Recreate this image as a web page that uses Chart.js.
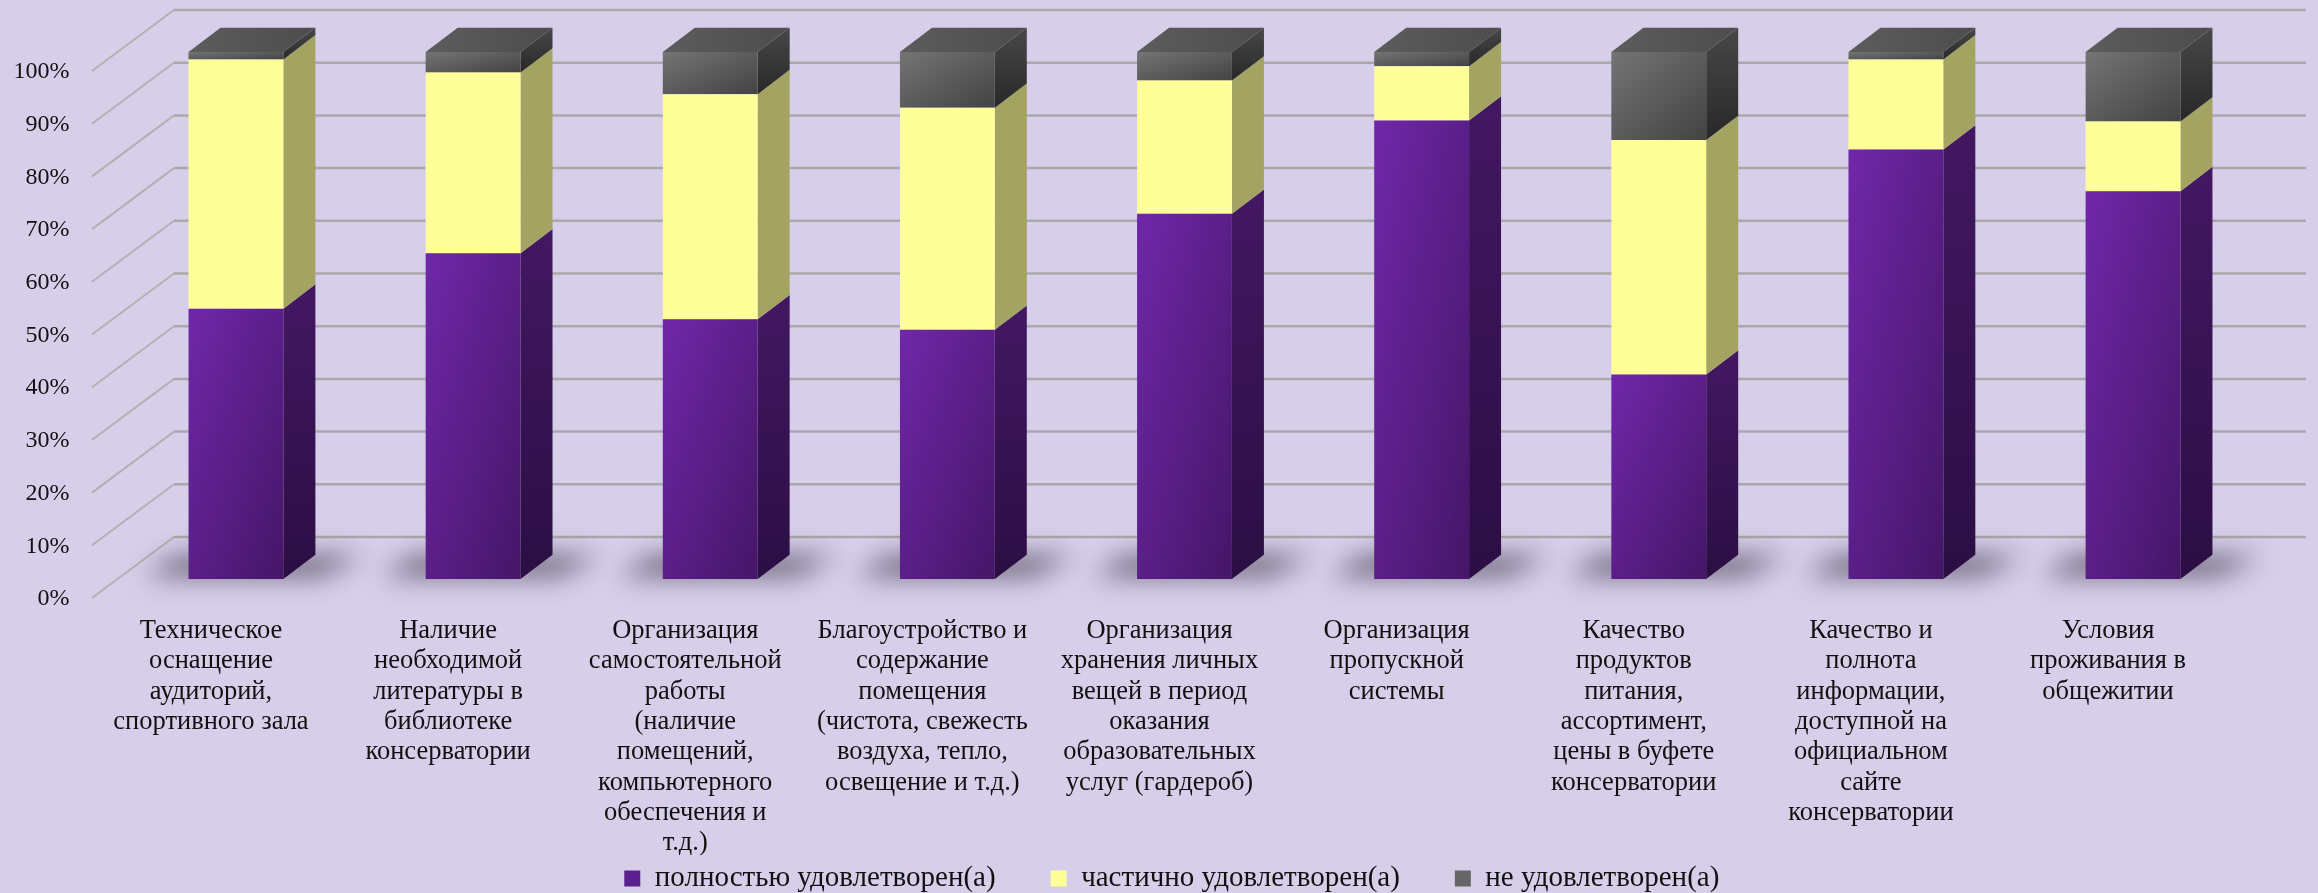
<!DOCTYPE html>
<html lang="ru">
<head>
<meta charset="utf-8">
<title>Удовлетворённость условиями</title>
<script src="https://cdn.jsdelivr.net/npm/chart.js@4"></script>
<style>
  html, body { margin: 0; padding: 0; background: #d7cee9; }
  canvas { display: block; }
</style>
</head>
<body>
<canvas id="myChart" width="2318" height="893"></canvas>
<script>
const categories = [
    ['Техническое', 'оснащение', 'аудиторий,', 'спортивного зала'],
    ['Наличие', 'необходимой', 'литературы в', 'библиотеке', 'консерватории'],
    ['Организация', 'самостоятельной', 'работы', '(наличие', 'помещений,', 'компьютерного', 'обеспечения и', 'т.д.)'],
    ['Благоустройство и', 'содержание', 'помещения', '(чистота, свежесть', 'воздуха, тепло,', 'освещение и т.д.)'],
    ['Организация', 'хранения личных', 'вещей в период', 'оказания', 'образовательных', 'услуг (гардероб)'],
    ['Организация', 'пропускной', 'системы'],
    ['Качество', 'продуктов', 'питания,', 'ассортимент,', 'цены в буфете', 'консерватории'],
    ['Качество и', 'полнота', 'информации,', 'доступной на', 'официальном', 'сайте', 'консерватории'],
    ['Условия', 'проживания в', 'общежитии']
]
const seriesNames = ['полностью удовлетворен(а)', 'частично удовлетворен(а)', 'не удовлетворен(а)']
const fullySatisfied = [51.3, 61.8, 49.3, 47.3, 69.3, 87.0, 38.8, 81.5, 73.6]
const partlySatisfied = [47.3, 34.3, 42.7, 42.1, 25.3, 10.3, 44.5, 17.1, 13.2]
const notSatisfied = [1.4, 3.9, 8.0, 10.6, 5.4, 2.7, 16.7, 1.4, 13.2]

// 3D look: depth of the bars and of the back wall
const depthX = 32
const depthY = 24.3
const wallDx = 82
const wallDy = 61
const tickShift = 19   // tick labels sit this far below the bar front

const fronts = [['#7027a9', '#451668'], ['#ffff99', '#ffff99'], ['#747474', '#434343']]
const sides = [['#431862', '#2b0e44'], ['#a3a362', '#a3a362'], ['#484848', '#282828']]
const legendColors = ['#5c1f8e', '#ffff99', '#666666']

// gradient corner to corner, like css "to bottom right"
function cornerGradient(ctx, x, y, w, h, c1, c2) {
    let len = Math.sqrt(w * w + h * h) || 1
    let half = w * h / len
    let cx = x + w / 2, cy = y + h / 2
    let dx = h / len * half, dy = w / len * half
    let g = ctx.createLinearGradient(cx - dx, cy - dy, cx + dx, cy + dy)
    g.addColorStop(0, c1)
    g.addColorStop(1, c2)
    return g
}

function frontFill(ds) {
    return (c) => {
        if (c.type !== 'data') return fronts[ds][1]
        let chart = c.chart
        let sx = chart.scales.x, sy = chart.scales.y
        let sets = chart.data.datasets
        let from = 0
        for (let k = 0; k < ds; k++) from += sets[k].data[c.dataIndex]
        let to = from + sets[ds].data[c.dataIndex]
        let top = sy.getPixelForValue(to), base = sy.getPixelForValue(from)
        let w = sx.getPixelForValue(c.dataIndex + 1) - sx.getPixelForValue(c.dataIndex)
        let bw = w * 0.4
        let left = sx.getPixelForValue(c.dataIndex) - bw / 2
        return cornerGradient(chart.ctx, left, top, bw, base - top, fronts[ds][0], fronts[ds][1])
    }
}

const threeD = {
    id: 'threeD',
    afterLayout(chart) {
        // legend sits lower and more to the right than the layout would put it
        let lg = chart.legend
        lg.top = 878 - lg.options.labels.padding - 14
        lg.left += 46
        lg.right += 46
    },
    beforeDatasetsDraw(chart) {
        let ctx = chart.ctx
        let sy = chart.scales.y
        let area = chart.chartArea

        ctx.save()
        // back wall and left floor lines
        sy.ticks.forEach((t) => {
            let y = sy.getPixelForValue(t.value)
            let xBack = area.left + 56.6
            ctx.strokeStyle = '#b2b1b2'
            ctx.lineWidth = 2
            ctx.beginPath()
            ctx.moveTo(xBack - wallDx, y + tickShift)
            ctx.lineTo(xBack, y + tickShift - wallDy)
            ctx.stroke()
            ctx.strokeStyle = '#aaa8ac'
            ctx.lineWidth = 2.5
            ctx.beginPath()
            ctx.moveTo(xBack, y + tickShift - wallDy)
            ctx.lineTo(chart.width - 12, y + tickShift - wallDy)
            ctx.stroke()
        })

        // floor shadows
        let metaBase = chart.getDatasetMeta(0)
        ctx.filter = 'blur(13px)'
        ctx.fillStyle = 'rgba(50,42,62,0.68)'
        metaBase.data.forEach((b) => {
            let left = b.x - b.width / 2, right = b.x + b.width / 2
            ctx.beginPath()
            ctx.moveTo(left - 44, b.base - 3)
            ctx.lineTo(left - 10, b.base - depthY + 1)
            ctx.lineTo(right + depthX + 48, b.base - depthY + 1)
            ctx.lineTo(right + 38, b.base - 3)
            ctx.closePath()
            ctx.fill()
        })
        ctx.filter = 'none'

        // side faces and top faces
        chart.data.datasets.forEach((set, ds) => {
            chart.getDatasetMeta(ds).data.forEach((b) => {
                let right = b.x + b.width / 2
                let left = b.x - b.width / 2
                let g = ctx.createLinearGradient(0, b.y - depthY, 0, b.base)
                g.addColorStop(0, sides[ds][0])
                g.addColorStop(1, sides[ds][1])
                ctx.fillStyle = g
                ctx.beginPath()
                ctx.moveTo(right, b.y)
                ctx.lineTo(right + depthX, b.y - depthY)
                ctx.lineTo(right + depthX, b.base - depthY)
                ctx.lineTo(right, b.base)
                ctx.closePath()
                ctx.fill()

                if (ds === chart.data.datasets.length - 1) {
                    let t = ctx.createLinearGradient(left, 0, right + depthX, 0)
                    t.addColorStop(0, '#5c5c5c')
                    t.addColorStop(1, '#4d4d4d')
                    ctx.fillStyle = t
                    ctx.beginPath()
                    ctx.moveTo(left, b.y)
                    ctx.lineTo(left + depthX, b.y - depthY)
                    ctx.lineTo(right + depthX, b.y - depthY)
                    ctx.lineTo(right, b.y)
                    ctx.closePath()
                    ctx.fill()
                }
            })
        })
        ctx.restore()
    }
}

const serif = '"Liberation Serif", "DejaVu Serif", serif'
const ctx = document.getElementById('myChart')

new Chart(ctx, {
    type: 'bar',
    data: {
        labels: categories,
        datasets: [
            { label: seriesNames[0], data: fullySatisfied, backgroundColor: frontFill(0) },
            { label: seriesNames[1], data: partlySatisfied, backgroundColor: frontFill(1) },
            { label: seriesNames[2], data: notSatisfied, backgroundColor: frontFill(2) }
        ]
    },
    plugins: [threeD],
    options: {
        responsive: false,
        animation: false,
        devicePixelRatio: 1,
        categoryPercentage: 1,
        barPercentage: 0.4,
        layout: {
            autoPadding: false,
            padding: { top: 52, left: 0, right: 66.4, bottom: -56 }
        },
        scales: {
            x: {
                stacked: true,
                grid: { display: false, drawTicks: false },
                border: { display: false },
                afterFit: (s) => { s.height = 276; s.paddingTop = 0; s.paddingBottom = 0 },
                ticks: {
                    autoSkip: false,
                    maxRotation: 0,
                    minRotation: 0,
                    padding: 37,
                    labelOffset: -25,
                    color: '#111111',
                    font: { family: serif, size: 26.5, lineHeight: '30.3px' }
                }
            },
            y: {
                stacked: true,
                min: 0,
                max: 100,
                grid: { display: false, drawTicks: false },
                border: { display: false },
                afterFit: (s) => { s.width = 117.4; s.paddingTop = 0; s.paddingBottom = 0 },
                ticks: {
                    stepSize: 10,
                    padding: 48,
                    labelOffset: tickShift + 1,
                    color: '#111111',
                    font: { family: serif, size: 24 },
                    callback: (v) => v + '%'
                }
            }
        },
        plugins: {
            tooltip: { enabled: false },
            legend: {
                position: 'bottom',
                labels: {
                    boxWidth: 16,
                    boxHeight: 16,
                    padding: 55,
                    color: '#111111',
                    font: { family: serif, size: 29 },
                    generateLabels: (chart) => chart.data.datasets.map((set, i) => ({
                        text: set.label,
                        fillStyle: legendColors[i],
                        lineWidth: 0,
                        strokeStyle: legendColors[i],
                        fontColor: '#111111',
                        datasetIndex: i
                    }))
                }
            }
        }
    }
})
</script>
</body>
</html>
